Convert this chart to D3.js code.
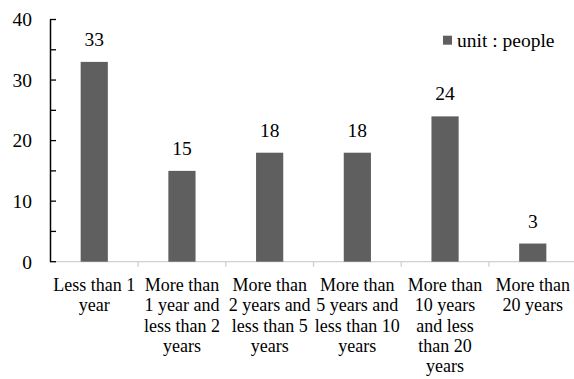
<!DOCTYPE html>
<html>
<head>
<meta charset="utf-8">
<script src="https://cdn.jsdelivr.net/npm/d3@7"></script>
</head>
<body style="margin:0;background:#fff">
<svg id="chart" width="574" height="379" style="display:block;font-family:'Liberation Serif'"></svg>
<script>
// Category labels (line breaks mark the wrapped lines under each bar)
const categories = [
  "Less than 1\nyear",
  "More than\n1 year and\nless than 2\nyears",
  "More than\n2 years and\nless than 5\nyears",
  "More than\n5 years and\nless than 10\nyears",
  "More than\n10 years\nand less\nthan 20\nyears",
  "More than\n20 years"
];
const people = [33, 15, 18, 18, 24, 3];
const yTicks = [0, 10, 20, 30, 40];
const yMinorTicks = [0, 5, 10, 15, 20, 25, 30, 35, 40];
const legendLabel = "unit : people";

const svg = d3.select("#chart");
const barColor = "#5f5f5f";

const x = d3.scaleBand()
  .domain(categories)
  .range([50.4, 576.6])
  .paddingInner(0.69)
  .paddingOuter(0.345);

const y = d3.scaleLinear().domain([0, 40]).range([261.7, 19.5]);

// x axis baseline and category separators
const xStep = x.step();
const bandStart = x.range()[0];
svg.append("line")
  .attr("x1", 50).attr("x2", 574)
  .attr("y1", y(0)).attr("y2", y(0))
  .attr("stroke", "#d0d0d0").attr("stroke-width", 1.3);
svg.append("g").selectAll("line")
  .data(d3.range(1, categories.length))
  .join("line")
  .attr("x1", i => bandStart + i * xStep)
  .attr("x2", i => bandStart + i * xStep)
  .attr("y1", y(0)).attr("y2", y(0) + 5)
  .attr("stroke", "#d0d0d0").attr("stroke-width", 1.3);

// bars
svg.append("g").selectAll("rect")
  .data(people)
  .join("rect")
  .attr("x", (d, i) => x(categories[i]))
  .attr("width", x.bandwidth())
  .attr("y", d => y(d))
  .attr("height", d => y(0) - y(d))
  .attr("fill", barColor);

// value labels
svg.append("g").selectAll("text")
  .data(people)
  .join("text")
  .attr("x", (d, i) => x(categories[i]) + x.bandwidth() / 2)
  .attr("y", d => y(d) - 16)
  .attr("text-anchor", "middle")
  .style("font-size", "19.5px")
  .attr("fill", "#000")
  .text(d => d);

// y axis: line with inward ticks every 5
const yAxis = svg.append("g");
yAxis.append("line")
  .attr("x1", 50.5).attr("x2", 50.5)
  .attr("y1", y(40)).attr("y2", y(0))
  .attr("stroke", "#000").attr("stroke-width", 1.5);
yAxis.selectAll("line.tick")
  .data(yMinorTicks)
  .join("line")
  .attr("class", "tick")
  .attr("x1", 50).attr("x2", 56)
  .attr("y1", d => y(d)).attr("y2", d => y(d))
  .attr("stroke", "#000").attr("stroke-width", 1.3);
yAxis.selectAll("text")
  .data(yTicks)
  .join("text")
  .attr("x", 32)
  .attr("y", d => y(d))
  .attr("dy", "0.35em")
  .attr("text-anchor", "end")
  .style("font-size", "19.5px")
  .attr("fill", "#000")
  .text(d => d);

// category labels
const labels = svg.append("g").selectAll("text")
  .data(categories)
  .join("text")
  .attr("x", d => x(d) + x.bandwidth() / 2)
  .attr("y", 291)
  .attr("text-anchor", "middle")
  .style("font-size", "18px")
  .attr("fill", "#000");
labels.each(function(d) {
  const t = d3.select(this);
  d.split("\n").forEach((line, i) => {
    t.append("tspan")
      .attr("x", t.attr("x"))
      .attr("y", 291 + i * 20.3)
      .text(line);
  });
});

// legend
const legend = svg.append("g");
legend.append("rect")
  .attr("x", 443).attr("y", 35.7)
  .attr("width", 9).attr("height", 9)
  .attr("fill", barColor);
legend.append("text")
  .attr("x", 457).attr("y", 46.5)
  .style("font-size", "19.5px")
  .attr("fill", "#000")
  .text(legendLabel);
</script>
</body>
</html>
